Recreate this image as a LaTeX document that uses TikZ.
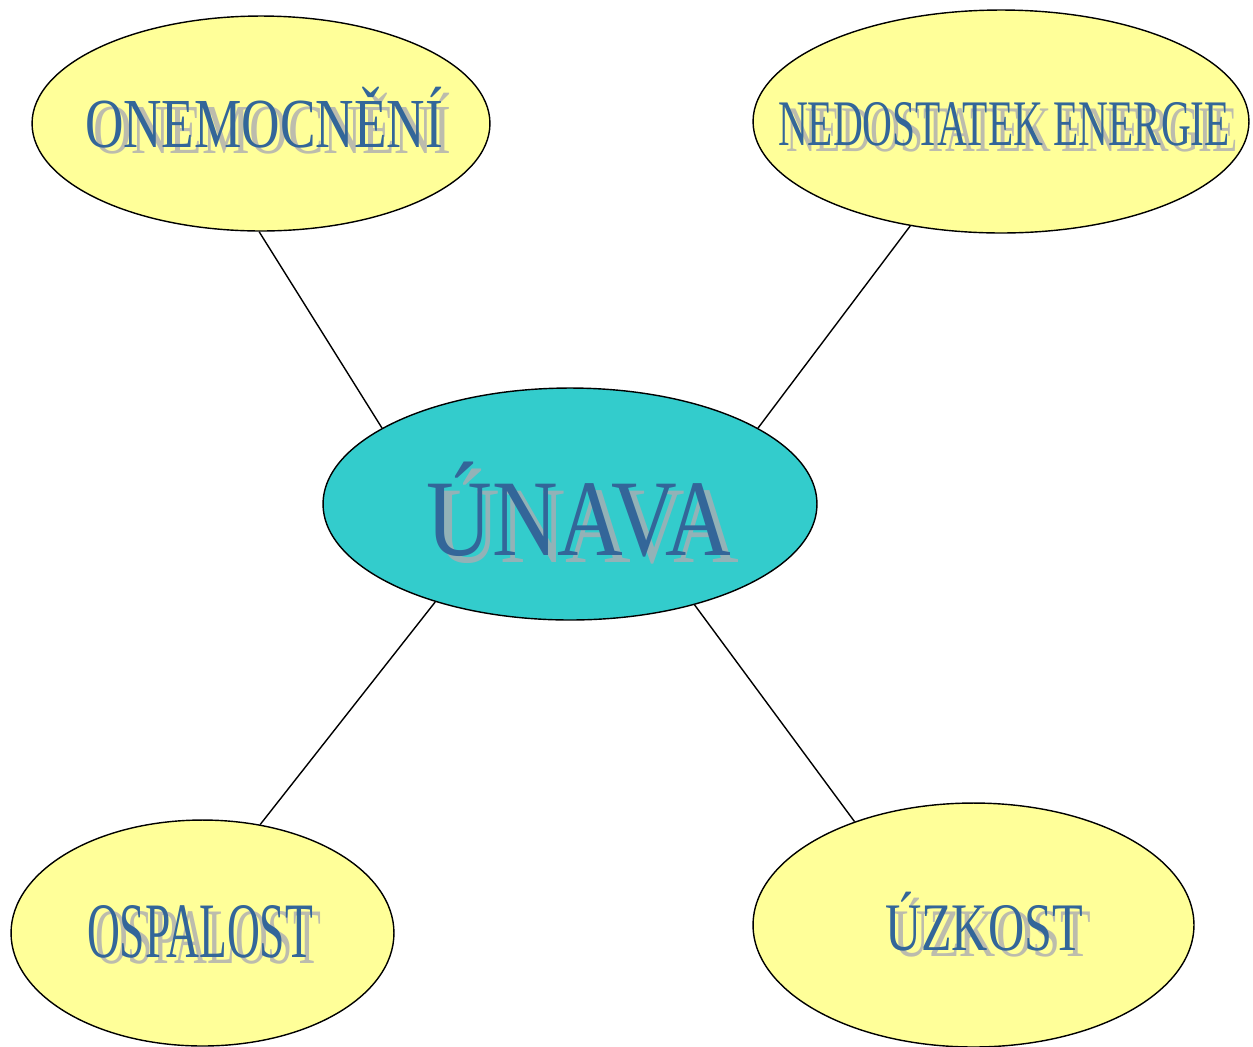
\documentclass[tikz,border=0pt]{standalone}
\usepackage{fontspec}
\setmainfont{Liberation Serif}
\usetikzlibrary{shapes.geometric}
\definecolor{bubble}{HTML}{FFFF99}
\definecolor{hub}{HTML}{33CCCC}
\definecolor{ink}{HTML}{336699}
\definecolor{shade}{RGB}{172,172,178}
% condensed caption: font size, target width, text
\newcommand{\captxt}[3]{{\fontsize{#1}{#1}\selectfont\resizebox{#2}{\height}{#3}}}
\begin{document}
\begin{tikzpicture}[x=0.02cm,y=-0.02cm,
  bub/.style={ellipse, draw=black, line width=0.8pt, fill=bubble, inner sep=0pt},
  link/.style={draw=black, line width=0.8pt},
  word/.style={anchor=base, inner sep=0pt, text=ink},
  wordsh/.style={anchor=base, inner sep=0pt, text=shade, text opacity=0.8}]
\useasboundingbox (0,0) rectangle (1253,1046);

% bubbles
\node[bub, minimum width=9.16cm, minimum height=4.3cm] (onem) at (261,123.5) {};
\node[bub, minimum width=9.92cm, minimum height=4.46cm] (ened) at (1001,121.5) {};
\node[bub, fill=hub, minimum width=9.88cm, minimum height=4.64cm] (unava) at (570,504) {};
\node[bub, minimum width=7.66cm, minimum height=4.52cm] (ospa) at (202.5,933) {};
\node[bub, minimum width=8.82cm, minimum height=4.88cm] (uzko) at (973.5,925) {};

% connectors
\draw[link] (onem.-91.6) -- (unava.158.4);
\draw[link] (ened.-131) -- (unava.22.5);
\draw[link] (unava.-144.8) -- (ospa.62.2);
\draw[link] (unava.-39.4) -- (uzko.139.7);

% captions with drop shadow
\node[wordsh] (onem-s) at (272,153) {\captxt{40pt}{7.16cm}{ONEMOCNĚNÍ}};
\node[word] (onem-t) at (264,147) {\captxt{40pt}{7.16cm}{ONEMOCNĚNÍ}};
\node[wordsh] (ened-s) at (1012,151) {\captxt{37pt}{9.04cm}{NEDOSTATEK ENERGIE}};
\node[word] (ened-t) at (1004,145) {\captxt{37pt}{9.04cm}{NEDOSTATEK ENERGIE}};
\node[wordsh] (unava-s) at (587,562) {\captxt{62pt}{6.1cm}{ÚNAVA}};
\node[word] (unava-t) at (579,555) {\captxt{62pt}{6.1cm}{ÚNAVA}};
\node[wordsh] (ospa-s) at (208,963) {\captxt{44.7pt}{4.52cm}{OSPALOST}};
\node[word] (ospa-t) at (200,957) {\captxt{44.7pt}{4.52cm}{OSPALOST}};
\node[wordsh] (uzko-s) at (992,956) {\captxt{38.7pt}{3.96cm}{ÚZKOST}};
\node[word] (uzko-t) at (984,950) {\captxt{38.7pt}{3.96cm}{ÚZKOST}};
\end{tikzpicture}
\end{document}
